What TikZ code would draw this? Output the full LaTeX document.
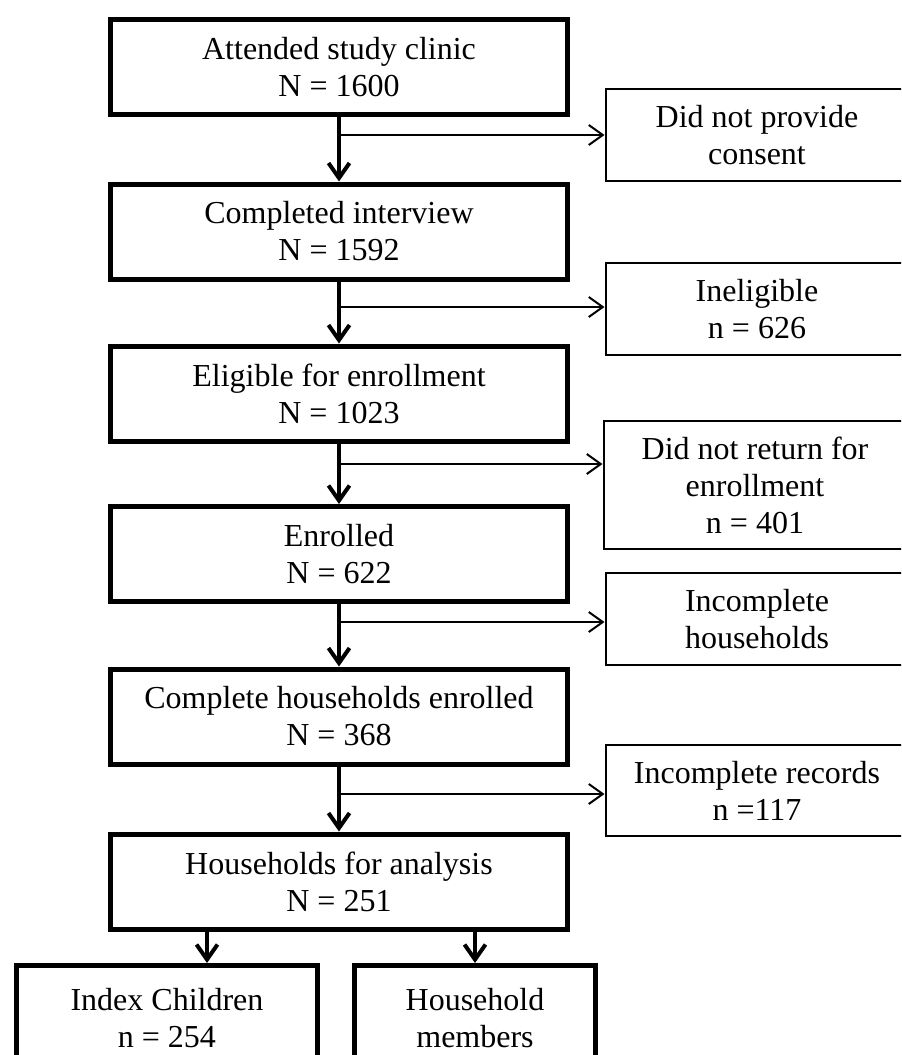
\documentclass[tikz,border=0pt]{standalone}
\usepackage{fontspec}
\setmainfont{Liberation Serif}
\usetikzlibrary{arrows.meta}
\tikzset{mainbox/.style={draw, line width=2.5pt, inner sep=0pt, align=center,
      minimum width=228.5pt, minimum height=47.5pt,
      font=\fontsize{16}{18.5}\selectfont}}
\tikzset{sidebox/.style={draw, line width=1pt, inner sep=0pt, align=center,
      minimum width=151.5pt, minimum height=46pt,
      font=\fontsize{16}{18.5}\selectfont}}
\tikzset{endbox/.style={mainbox, minimum height=52.5pt}}
\tikzset{down/.style={line width=2pt, -{Straight Barb[length=7.5pt,width=10.5pt]}}}
\tikzset{side/.style={line width=1pt, -{Straight Barb[length=7pt,width=10pt]}}}

\begin{document}
\begin{tikzpicture}[x=0.5pt,y=-0.5pt]
    \clip (0,0) rectangle (901,1055);
    \node[mainbox] (clinic) at (339,67) {Attended study clinic\\N = 1600};
    \node[mainbox] (interview) at (339,231.5) {Completed interview\\N = 1592};
    \node[mainbox] (eligible) at (339,393.5) {Eligible for enrollment\\N = 1023};
    \node[mainbox] (enrolled) at (339,554) {Enrolled\\N = 622};
    \node[mainbox] (complete) at (339,716.5) {Complete households enrolled\\N = 368};
    \node[mainbox] (analysis) at (339,881.5) {Households for analysis\\N = 251};
    \node[sidebox] (consent) at (757,135) {Did not provide\\consent};
    \node[sidebox] (inelig) at (757,309) {Ineligible\\n = 626};
    \node[sidebox, minimum height=64pt] (noreturn) at (755,485) {Did not return for\\enrollment\\n = 401};
    \node[sidebox] (incompl) at (757,619) {Incomplete\\households};
    \node[sidebox, minimum height=45.5pt] (records) at (757,790.5) {Incomplete records\\n =117};
    \node[endbox, minimum width=150.5pt] (children) at (167,1018) {Index Children\\n = 254};
    \node[endbox, minimum width=120.5pt] (members) at (475,1018) {Household\\members};
    \draw[down] (clinic) -- (interview);
    \draw[down] (interview) -- (eligible);
    \draw[down] (eligible) -- (enrolled);
    \draw[down] (enrolled) -- (complete);
    \draw[down] (complete) -- (analysis);
    \coordinate (j1) at (340,135);
    \coordinate (j2) at (340,307);
    \coordinate (j3) at (340,464);
    \coordinate (j4) at (340,622);
    \coordinate (j5) at (340,794);
    \draw[side] (j1) -- (j1 -| consent.west);
    \draw[side] (j2) -- (j2 -| inelig.west);
    \draw[side] (j3) -- (j3 -| noreturn.west);
    \draw[side] (j4) -- (j4 -| incompl.west);
    \draw[side] (j5) -- (j5 -| records.west);
    \draw[down] ([xshift=-66pt]analysis.south) -- ([xshift=-66pt]analysis.south |- children.north);
    \draw[down] (analysis.south -| members.north) -- (members.north);
  \end{tikzpicture}
\end{document}
